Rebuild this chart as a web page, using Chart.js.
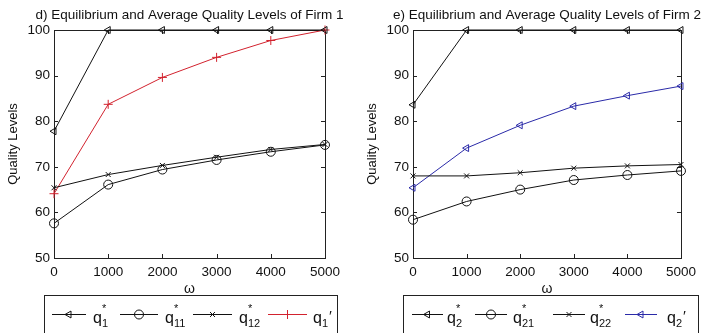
<!DOCTYPE html>
<html>
<head>
<meta charset="utf-8">
<title>Equilibrium and Average Quality Levels</title>
<script src="https://cdn.jsdelivr.net/npm/chart.js@4.4.0/dist/chart.umd.min.js"></script>
<style>
    html, body { margin: 0; padding: 0; background: #fff; }
    #wrap { position: relative; width: 702px; height: 333px; overflow: hidden; }
    #firm1 { position: absolute; left: 0; top: 0; }
    #firm2 { position: absolute; left: 350px; top: 0; }
</style>
</head>
<body>
<div id="wrap">
    <canvas id="firm1" width="350" height="333"></canvas>
    <canvas id="firm2" width="352" height="333"></canvas>
</div>
<script>
// --- DATA ---
const omega = [0, 1000, 2000, 3000, 4000, 5000];
const xTickStep = 1000;
const yTickStep = 10;
const yRange = [50, 100];

// Firm 1
const q1Star = [77.8, 100, 100, 100, 100, 100];
const q11Star = [57.6, 66.1, 69.4, 71.5, 73.3, 74.8];
const q12Star = [65.4, 68.3, 70.3, 72.1, 73.8, 74.9];
const q1Avg = [64.1, 83.7, 89.6, 94.0, 97.7, 100];

// Firm 2
const q2Star = [83.6, 100, 100, 100, 100, 100];
const q21Star = [58.4, 62.4, 65.0, 67.1, 68.2, 69.1];
const q22Star = [68.0, 68.0, 68.7, 69.7, 70.2, 70.5];
const q2Avg = [65.4, 74.1, 79.1, 83.3, 85.6, 87.7];

const BLACK = '#111';
const RED = '#d2222e';
const BLUE = '#2a2aa8';
const FONT = 'Arial, "Liberation Sans", sans-serif';

// marker styles (MATLAB-like open markers)
const markTri = { pointStyle: 'triangle', rotation: -90, radius: 4 };
const markCircle = { pointStyle: 'circle', rotation: 0, radius: 4.5 };
const markX = { pointStyle: 'crossRot', rotation: 0, radius: 3.5 };
const markPlus = { pointStyle: 'cross', rotation: 0, radius: 4.5 };

function series(values, color, mark) {
    return {
        data: omega.map((w, i) => ({ x: w, y: values[i] })),
        borderColor: color,
        borderWidth: 1,
        pointStyle: mark.pointStyle,
        pointRotation: mark.rotation,
        pointRadius: mark.radius,
        pointBorderColor: color,
        pointBackgroundColor: 'rgba(0,0,0,0)',
        pointBorderWidth: 1,
        tension: 0,
        clip: false,
        mark: mark
    };
}

// box around the plot and inward tick marks on all four sides
const axesBox = {
    id: 'axesBox',
    beforeDatasetsDraw(chart) {
        const ctx = chart.ctx;
        const a = chart.chartArea;
        const xs = chart.scales.x, ys = chart.scales.y;
        const len = 4;
        ctx.save();
        ctx.strokeStyle = '#222';
        ctx.lineWidth = 1;
        ctx.strokeRect(Math.round(a.left) + 0.5, Math.round(a.top) + 0.5,
            Math.round(a.right - a.left), Math.round(a.bottom - a.top));
        ctx.beginPath();
        xs.ticks.forEach(t => {
            const px = Math.round(xs.getPixelForValue(t.value)) + 0.5;
            ctx.moveTo(px, a.bottom); ctx.lineTo(px, a.bottom - len);
            ctx.moveTo(px, a.top); ctx.lineTo(px, a.top + len);
        });
        ys.ticks.forEach(t => {
            const py = Math.round(ys.getPixelForValue(t.value)) + 0.5;
            ctx.moveTo(a.left, py); ctx.lineTo(a.left + len, py);
            ctx.moveTo(a.right, py); ctx.lineTo(a.right - len, py);
        });
        ctx.stroke();
        ctx.restore();
    }
};

// q with subscript and a star or prime
function drawSymbol(ctx, x, sub, mark) {
    ctx.fillStyle = '#111';
    ctx.textBaseline = 'alphabetic';
    ctx.textAlign = 'left';
    ctx.font = '16px ' + FONT;
    ctx.fillText('q', x, 323);
    const qw = ctx.measureText('q').width;
    ctx.font = '11px ' + FONT;
    ctx.fillText(sub, x + qw, 327);
    const sw = ctx.measureText(sub).width;
    if (mark === '*') {
        ctx.fillText('*', x + qw, 312);
    } else {
        ctx.font = '15px ' + FONT;
        ctx.fillText('\u2032', x + qw + sw + 1, 321);
    }
}

// title, axis labels and the legend box under the plot
const panelText = {
    id: 'panelText',
    afterDraw(chart, args, opts) {
        const ctx = chart.ctx;
        const a = chart.chartArea;
        const cx = (a.left + a.right) / 2;
        ctx.save();
        ctx.fillStyle = '#111';
        ctx.textAlign = 'center';
        ctx.textBaseline = 'middle';
        ctx.font = '13.5px ' + FONT;
        ctx.fillText(opts.title, cx, 15);
        ctx.font = '14px ' + FONT;
        ctx.fillText('\u03c9', cx, 289);

        ctx.save();
        ctx.translate(a.left - 41, (a.top + a.bottom) / 2);
        ctx.rotate(-Math.PI / 2);
        ctx.font = '13px ' + FONT;
        ctx.fillText('Quality Levels', 0, 0);
        ctx.restore();

        // legend
        const lg = opts.legend;
        ctx.fillStyle = '#fff';
        ctx.fillRect(lg.left, 295, lg.right - lg.left, 60);
        ctx.strokeStyle = '#222';
        ctx.lineWidth = 1;
        ctx.strokeRect(lg.left + 0.5, 295.5, lg.right - lg.left, 60);
        const ds = chart.data.datasets;
        lg.items.forEach((it, i) => {
            const d = ds[i];
            ctx.strokeStyle = d.borderColor;
            ctx.beginPath();
            ctx.moveTo(it.x0, 314.5);
            ctx.lineTo(it.x1, 314.5);
            ctx.stroke();
            ctx.fillStyle = 'rgba(0,0,0,0)';
            Chart.helpers.drawPoint(ctx, {
                pointStyle: d.mark.pointStyle,
                rotation: d.mark.rotation,
                radius: d.mark.radius,
                borderWidth: 1
            }, (it.x0 + it.x1) / 2, 314.5);
            drawSymbol(ctx, it.tx, it.sub, it.mark);
        });
        ctx.restore();
    }
};

function makeChart(id, datasets, opts) {
    return new Chart(document.getElementById(id), {
        type: 'line',
        data: { datasets: datasets },
        plugins: [axesBox, panelText],
        options: {
            responsive: false,
            animation: false,
            layout: { padding: { left: 0, right: opts.padRight, top: 30, bottom: 30 } },
            plugins: {
                legend: { display: false },
                title: { display: false },
                tooltip: { enabled: false },
                panelText: { title: opts.title, legend: opts.legend }
            },
            scales: {
                x: {
                    type: 'linear',
                    min: omega[0],
                    max: omega[omega.length - 1],
                    ticks: {
                        stepSize: xTickStep, color: '#111', padding: 6,
                        font: { family: FONT, size: 13.5 },
                        callback: v => String(v)
                    },
                    grid: { display: false, drawTicks: false },
                    border: { display: false },
                    afterFit(s) { s.height = 45; }
                },
                y: {
                    min: yRange[0],
                    max: yRange[1],
                    ticks: {
                        stepSize: yTickStep, color: '#111', padding: 4,
                        font: { family: FONT, size: 13.5 },
                        callback: v => String(v)
                    },
                    grid: { display: false, drawTicks: false },
                    border: { display: false },
                    afterFit(s) { s.width = opts.yWidth; }
                }
            }
        }
    });
}

makeChart('firm1', [
    series(q1Star, BLACK, markTri),
    series(q11Star, BLACK, markCircle),
    series(q12Star, BLACK, markX),
    series(q1Avg, RED, markPlus)
], {
    title: 'd) Equilibrium and Average Quality Levels of Firm 1',
    yWidth: 54,
    padRight: 25,
    legend: {
        left: 44, right: 337,
        items: [
            { x0: 52, x1: 86, tx: 93, sub: '1', mark: '*' },
            { x0: 120, x1: 158, tx: 165, sub: '11', mark: '*' },
            { x0: 193, x1: 232, tx: 239, sub: '12', mark: '*' },
            { x0: 268, x1: 307, tx: 313, sub: '1', mark: "'" }
        ]
    }
});

makeChart('firm2', [
    series(q2Star, BLACK, markTri),
    series(q21Star, BLACK, markCircle),
    series(q22Star, BLACK, markX),
    series(q2Avg, BLUE, markTri)
], {
    title: 'e) Equilibrium and Average Quality Levels of Firm 2',
    yWidth: 63,
    padRight: 17,
    legend: {
        left: 53, right: 348,
        items: [
            { x0: 62, x1: 93, tx: 97, sub: '2', mark: '*' },
            { x0: 125, x1: 157, tx: 163, sub: '21', mark: '*' },
            { x0: 203, x1: 235, tx: 240, sub: '22', mark: '*' },
            { x0: 275, x1: 307, tx: 317, sub: '2', mark: "'" }
        ]
    }
});
</script>
</body>
</html>
